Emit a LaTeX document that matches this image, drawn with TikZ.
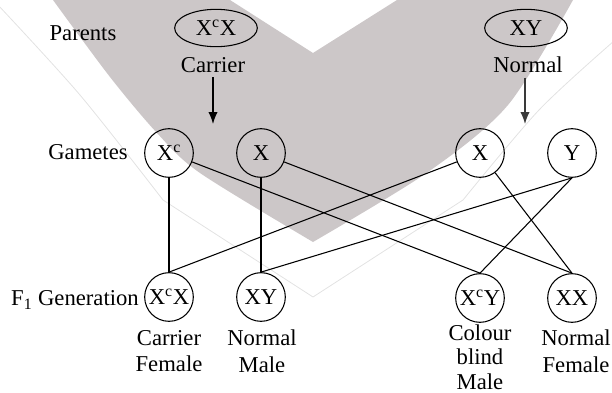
\documentclass[tikz,border=0pt]{standalone}
\usepackage{fontspec}
\setmainfont{Liberation Serif}
\usepackage{xcolor}
\definecolor{heartgray}{HTML}{CCC7C8}
\definecolor{rimgray}{HTML}{E2E2E2}
\definecolor{inkgray}{HTML}{3A3A3A}
\usepackage{tikz}
\usetikzlibrary{shapes.geometric, arrows.meta, positioning}

\tikzset{
  parent/.style={ellipse, draw, line width=0.8pt, minimum width=62pt,
                 minimum height=28pt, inner sep=0pt},
  cell/.style={circle, draw, line width=0.8pt, minimum size=36.5pt, inner sep=0pt},
  tag/.style={align=center},
  cross/.style={line width=0.8pt},
  descent/.style={line width=0.9pt, -{Latex[length=9pt,width=7pt]}},
}

\begin{document}
\begin{tikzpicture}[x=0.75pt, y=-0.75pt, font=\fontsize{17}{20}\selectfont]
\useasboundingbox (0,0) rectangle (612,393);

% Background heart
\fill[heartgray] plot[smooth] coordinates {(53,0) (110,77) (157,133) (200,173) (313,242)}
  -- plot[smooth] coordinates {(313,242) (428,172) (508,105) (573,0)}
  -- (397,0) -- (313,53) -- (230,0) -- cycle;
\draw[rimgray, line width=0.6pt] plot[smooth] coordinates {(-2,5) (80,95) (163,200)}
  -- (313,297) -- plot[smooth] coordinates {(463,200) (539,110) (614,41)};

% Parents
\node (parents) at (83,33) {Parents};
\node[parent] (mom) at (216,28) {X\textsuperscript{c}X};
\node[parent] (dad) at (526,28) {XY};
\node (carrier) at (213,65) {Carrier};
\node (normal) at (528,65) {Normal};
\coordinate (momtip) at (213,124);
\coordinate (dadtip) at (525,124);
\draw[descent] (carrier.south) -- (momtip);
\draw[descent, inkgray] (normal.south -| dadtip) -- (dadtip);

% Gametes
\node (gametes) at (88,152) {Gametes};
\node[cell] (g1) at (169,153) {X\textsuperscript{c}};
\node[cell] (g2) at (261,153) {X};
\node[cell] (g3) at (480,153) {X};
\node[cell] (g4) at (572,153) {Y};

% F1 generation
\node (fone) at (75,300) {F\textsubscript{1} Generation};
\node[cell] (f1) at (169,297) {X\textsuperscript{c}X};
\node[cell] (f2) at (261,297) {XY};
\node[cell] (f3) at (480,298) {X\textsuperscript{c}Y};
\node[cell] (f4) at (572,298) {XX};

\node[tag] (cf) at (169,351) {Carrier\\Female};
\node[tag] (nm) at (262,351) {Normal\\Male};
\node[tag, font=\fontsize{17}{18.5}\selectfont] (cbm) at (480,357) {Colour\\blind\\Male};
\node[tag] (nf) at (576,351) {Normal\\Female};

% Crosses
\draw[cross] (g1) -- (f1);
\draw[cross] (g1) -- (f3.north);
\draw[cross] (g2) -- (f2);
\draw[cross] (g2) -- (f4.north);
\draw[cross] (g3) -- (f1.north);
\draw[cross] (g3) -- (f4.north);
\draw[cross] (g4.south) -- (f2.north);
\draw[cross] (g4.south) -- (f3.north);
\end{tikzpicture}
\end{document}
